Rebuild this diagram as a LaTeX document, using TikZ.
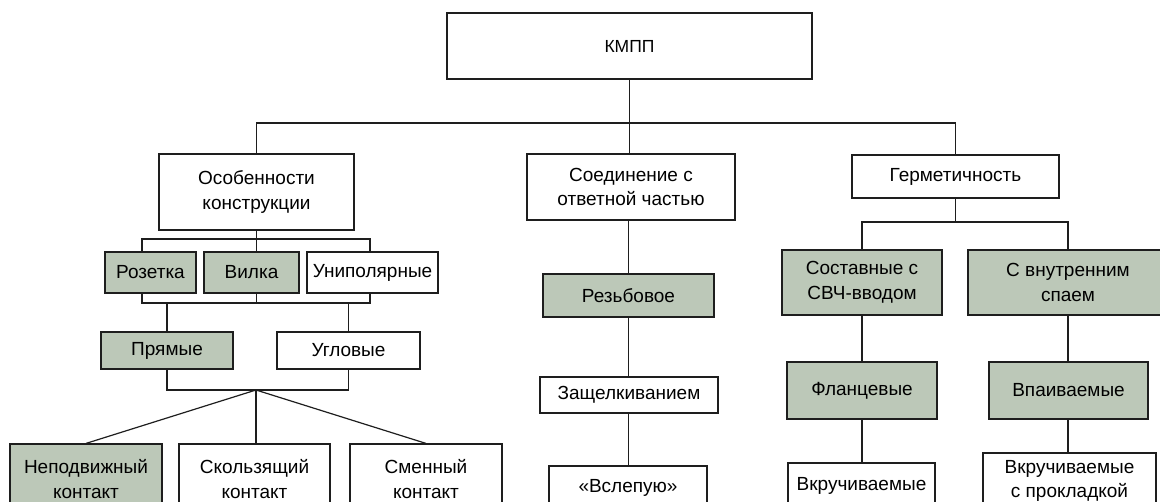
\documentclass[tikz,border=0pt]{standalone}
\usepackage{fontspec}
\setmainfont{Liberation Sans}
\definecolor{boxgreen}{RGB}{188,200,184}
\definecolor{linegray}{RGB}{30,30,30}
\begin{document}
\begin{tikzpicture}[x=1pt,y=-1pt,
  box/.style={draw=linegray, line width=1.2pt, inner sep=2pt, align=center,
    font=\fontsize{19}{24.5}\selectfont, fill=white},
  gbox/.style={box, fill=boxgreen},
  conn/.style={draw=linegray, line width=1.2pt}]
\useasboundingbox (0,0) rectangle (1160,501);
\clip (0,0) rectangle (1160,501);
% top
\node[box, minimum width=365pt, minimum height=66pt, font=\fontsize{17.5}{24}\selectfont] (kmpp) at (629.5,46) {КМПП};
% level 1
\node[box, minimum width=195pt, minimum height=76pt] (osob) at (256.5,192) {Особенности\\конструкции};
\node[box, minimum width=208pt, minimum height=66pt] (soed) at (631,187) {Соединение с\\ответной частью};
\node[box, minimum width=207pt, minimum height=43pt] (germ) at (955.5,176.5) {Герметичность};
% left branch
\node[gbox, minimum width=91pt, minimum height=41pt] (roz) at (150.5,272.5) {Розетка};
\node[gbox, minimum width=95pt, minimum height=41pt] (vil) at (251.5,272.5) {Вилка};
\node[box, minimum width=131pt, minimum height=41pt] (uni) at (372.5,272.5) {Униполярные};
\node[gbox, minimum width=132pt, minimum height=37pt] (pryam) at (167,350.5) {Прямые};
\node[box, minimum width=143pt, minimum height=37pt] (ugl) at (348.5,350.5) {Угловые};
\node[gbox, minimum width=152pt, minimum height=70pt] (nepod) at (86,479) {Неподвижный\\контакт};
\node[box, minimum width=151pt, minimum height=70pt] (skol) at (254.5,479) {Скользящий\\контакт};
\node[box, minimum width=152pt, minimum height=70pt] (smen) at (426,479) {Сменный\\контакт};
% middle branch
\node[gbox, minimum width=171pt, minimum height=43pt] (rezb) at (628.5,295.5) {Резьбовое};
\node[box, minimum width=178pt, minimum height=36pt] (zasch) at (629,395) {Защелкиванием};
\node[box, minimum width=158pt, minimum height=44pt] (vslep) at (628,488) {«Вслепую»};
% right branch
\node[gbox, minimum width=160pt, minimum height=65pt] (sost) at (862,282.5) {Составные с\\СВЧ-вводом};
\node[gbox, minimum width=200pt, minimum height=65pt] (svnut) at (1068,282.5) {С внутренним\\спаем};
\node[gbox, minimum width=150pt, minimum height=57pt] (flan) at (862,390.5) {Фланцевые};
\node[gbox, minimum width=159pt, minimum height=57pt] (vpai) at (1068.5,390.5) {Впаиваемые};
\node[box, minimum width=147pt, minimum height=46pt] (vkr1) at (861.5,486) {Вкручиваемые};
\node[box, minimum width=173pt, minimum height=56pt] (vkr2) at (1069.5,481) {Вкручиваемые\\с прокладкой};
% coordinates
\coordinate (b0) at (629.5,123);
\coordinate (bl1) at (142,239);
\coordinate (br1) at (370,239);
\coordinate (bl2) at (142,303);
\coordinate (br2) at (370,303);
\coordinate (bl3) at (167,303);
\coordinate (br3) at (348.5,303);
\coordinate (hub) at (256,390);
\coordinate (gb) at (955.5,222);
% top connectors
\draw[conn] (kmpp.south) -- (kmpp.south |- soed.north);
\draw[conn] (osob.north) |- (b0) -| (germ.north);
% left connectors
\draw[conn] (osob.south) -- (osob.south |- bl1);
\draw[conn] (roz.north -| bl1) |- (br1) -- (br1 |- uni.north);
\draw[conn] (vil.north -| osob.south) -- (osob.south |- bl1);
\draw[conn] (roz.south -| bl2) |- (br2) -- (br2 |- uni.south);
\draw[conn] (vil.south -| osob.south) -- (osob.south |- bl2);
\draw[conn] (pryam.north) -- (bl3);
\draw[conn] (ugl.north) -- (br3);
\draw[conn] (pryam.south) |- (hub) -| (ugl.south);
\draw[conn] (hub) -- (nepod.north);
\draw[conn] (hub) -- (hub |- skol.north);
\draw[conn] (hub) -- (smen.north);
% middle connectors
\draw[conn] (soed.south -| rezb.north) -- (rezb.north);
\draw[conn] (rezb.south) -- (rezb.south |- zasch.north);
\draw[conn] (zasch.south -| rezb.south) -- (rezb.south |- vslep.north);
% right connectors
\draw[conn] (germ.south) -- (gb);
\draw[conn] (sost.north) |- (gb) -| (svnut.north);
\draw[conn] (sost.south) -- (flan.north);
\draw[conn] (flan.south) -- (flan.south |- vkr1.north);
\draw[conn] (svnut.south) -- (vpai.north -| svnut.south);
\draw[conn] (vpai.south -| svnut.south) -- (svnut.south |- vkr2.north);
\end{tikzpicture}
\end{document}
